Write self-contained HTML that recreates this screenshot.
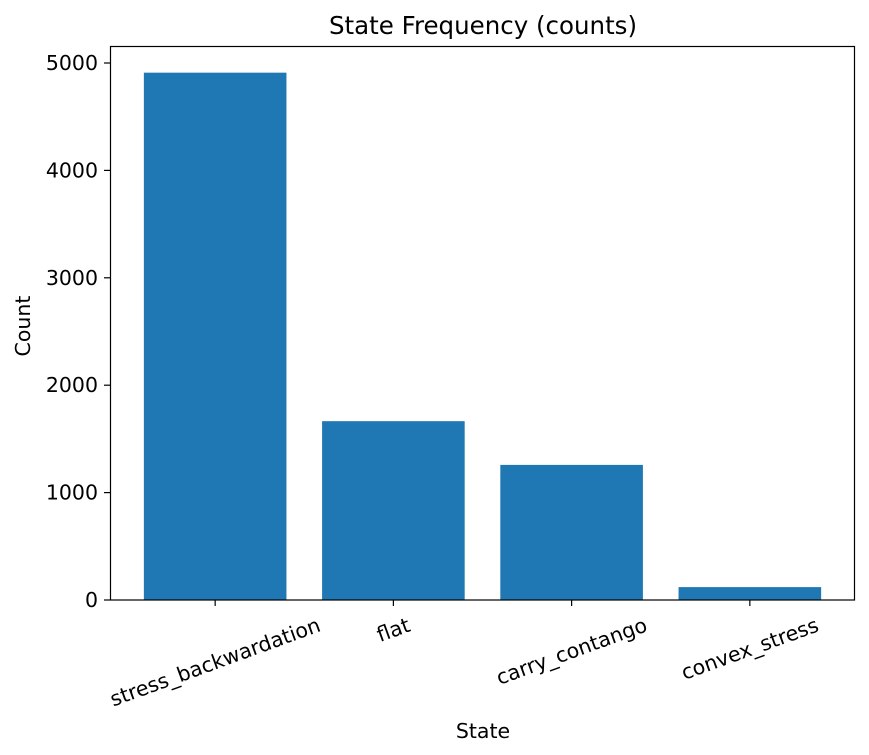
<!DOCTYPE html>
<html><head><meta charset="utf-8"><style>
body{margin:0;background:#fff}
svg{display:block;font-family:"DejaVu Sans","Liberation Sans",sans-serif}
</style></head><body>
<svg id="chart" width="869" height="755">
<text x="483" y="34" font-size="24.5" text-anchor="middle">State Frequency (counts)</text>
<text x="483" y="738" font-size="20.5" text-anchor="middle">State</text>
<text transform="translate(30,326) rotate(-90)" font-size="20.5" text-anchor="middle">Count</text>
<g id="bars"></g><g id="axes"></g>
<rect x="110.5" y="46.5" width="744" height="553.5" fill="none" stroke="#000" stroke-width="1.2"/>
</svg>
<script>
const categories=["stress_backwardation","flat","carry_contango","convex_stress"];
const counts=[4910,1665,1258,120];
const yTicks=[0,1000,2000,3000,4000,5000];
const L=110,R=855,T=46,B=600;
const xMin=-0.59,xMax=3.59;
const xs=i=>L+(i-xMin)/(xMax-xMin)*(R-L);
const ys=v=>B-(v/5000)*(B-63);
const NS="http://www.w3.org/2000/svg";
const svg=document.getElementById('chart');
const bars=document.getElementById('bars'),axes=document.getElementById('axes');
function mk(t,a,p){const e=document.createElementNS(NS,t);for(const k in a)e.setAttribute(k,a[k]);p.appendChild(e);return e;}
const bw=0.8*(R-L)/(xMax-xMin);
const FS=20.5;
counts.forEach((c,i)=>{
 const r=mk('rect',{x:xs(i)-bw/2,y:ys(c),width:bw,height:B-ys(c),fill:'#1f77b4'},bars);
 
 
 const tk=mk('line',{x1:xs(i),x2:xs(i),y1:B,y2:B+6,stroke:'#000','stroke-width':1.2},axes);
 
 
 const t=mk('text',{'font-size':FS,'text-anchor':'middle','dominant-baseline':'central'},axes);
 t.textContent=categories[i];
 
 
 const len=t.getComputedTextLength();
 const a=20*Math.PI/180;
 const cy=614+(len*Math.sin(a)+FS*1.05*Math.cos(a))/2;
 t.setAttribute('transform','translate('+xs(i)+','+cy+') rotate(-20)');
});
yTicks.forEach(v=>{
 const tk=mk('line',{x1:L-6,x2:L,y1:ys(v),y2:ys(v),stroke:'#000','stroke-width':1.2},axes);
 
 
 const t=mk('text',{x:L-12,y:ys(v)+7,'font-size':FS,'text-anchor':'end'},axes);
 t.textContent=v;
 
 
});
</script>
</body></html>
